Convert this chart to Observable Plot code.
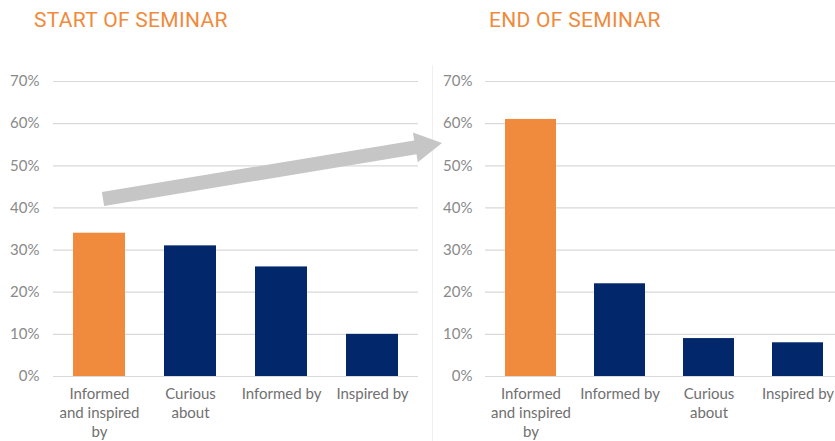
<!DOCTYPE html>
<html>
<head>
<meta charset="utf-8">
<script src="https://cdn.jsdelivr.net/npm/d3@7"></script>
<script src="https://cdn.jsdelivr.net/npm/@observablehq/plot@0.6"></script>
<style>
  html, body { margin: 0; padding: 0; background: #fff; overflow: hidden; }
  #wrap { position: relative; width: 835px; height: 441px; overflow: hidden; }
  .title { position: absolute; top: 8px; font-family: Roboto, sans-serif; font-size: 21px; color: #F08A3C; letter-spacing: 0.3px; white-space: nowrap; }
  .panel { position: absolute; top: 60px; }
  .panel svg { max-width: none !important; display: block; }
  #sep { position: absolute; left: 432px; top: 65px; width: 1px; height: 376px; background: #f0f0f0; }
  #overlay { position: absolute; left: 0; top: 0; pointer-events: none; }
</style>
</head>
<body>
<div id="wrap">
  <div class="title" style="left:34px">START OF SEMINAR</div>
  <div class="title" style="left:489px">END OF SEMINAR</div>
  <div id="sep"></div>
  <div id="left" class="panel" style="left:0px; width:420px"></div>
  <div id="right" class="panel" style="left:420px; width:422px"></div>
</div>
<script>
// ---- data ----
const startCategories = ["Informed and inspired by", "Curious about", "Informed by", "Inspired by"];
const startValues = [34, 31, 26, 10];
const endCategories = ["Informed and inspired by", "Informed by", "Curious about", "Inspired by"];
const endValues = [61, 22, 9, 8];
const yTicks = [0, 10, 20, 30, 40, 50, 60, 70];
const labelCategories = ["Informed and inspired by", "Curious about", "Informed by", "Inspired by"];
const labelTexts = ["Informed\nand inspired\nby", "Curious\nabout", "Informed by", "Inspired by"];
const highlight = "Informed and inspired by";
// annotation arrow: from the start panel's highlighted bar (value) to the end panel's axis (value)
const arrowStartValue = 42;
const arrowEndValue = 55.3;

const ORANGE = "#F08A3C";
const NAVY = "#02276A";

const labelOf = d => labelTexts[labelCategories.indexOf(d)] ?? d;

function panel(cats, vals, {width, marginLeft, marginRight, tickPadding, paddingOuter}) {
  const data = cats.map((c, i) => ({cat: c, val: vals[i]}));
  return Plot.plot({
    width,
    height: 381,
    marginTop: 21,
    marginBottom: 65,
    marginLeft,
    marginRight,
    style: {fontFamily: "Lato, sans-serif", fontSize: "15px", background: "transparent", overflow: "visible", maxWidth: "none"},
    x: {domain: cats, paddingInner: 0.43, paddingOuter, label: null},
    y: {domain: [0, 70], label: null},
    marks: [
      Plot.gridY(yTicks, {stroke: "#d9d9d9", strokeOpacity: 1, strokeWidth: 1.2}),
      Plot.barY(data, {filter: d => d.cat === highlight, x: "cat", y: "val", fill: ORANGE}),
      Plot.barY(data, {filter: d => d.cat !== highlight, x: "cat", y: "val", fill: NAVY}),
      Plot.axisY(yTicks, {tickSize: 0, tickPadding, tickFormat: d => d + "%", fill: "#8a8a8a", fontSize: 15}),
      Plot.axisX({tickSize: 0, tickPadding: 9, tickFormat: labelOf, fill: "#707070", fontSize: 15, lineHeight: 1.27})
    ]
  });
}

const left = panel(startCategories, startValues, {width: 420, marginLeft: 53, marginRight: 2, tickPadding: 14, paddingOuter: 0.22});
const right = panel(endCategories, endValues, {width: 422, marginLeft: 65, marginRight: 0, tickPadding: 13, paddingOuter: 0.213});
document.getElementById("left").appendChild(left);
document.getElementById("right").appendChild(right);

// ---- arrow annotation, positioned through the plots' scales ----
const xL = left.scale("x"), yL = left.scale("y");
const xR = right.scale("x"), yR = right.scale("y");
const top0 = 60, leftR = 420;
const x0 = xL.apply(highlight) + xL.bandwidth / 2 + 4;
const y0 = top0 + yL.apply(arrowStartValue);
const x1 = leftR + xR.range[0] - 43;
const y1 = top0 + yR.apply(arrowEndValue);

const dx = x1 - x0, dy = y1 - y0, len = Math.hypot(dx, dy);
const ux = dx / len, uy = dy / len, nx = -uy, ny = ux;
const shaft = 7, head = 15, headLen = 27;
const bx = x1 - ux * headLen, by = y1 - uy * headLen;
const pts = [
  [x0 + nx * shaft, y0 + ny * shaft],
  [bx + nx * shaft, by + ny * shaft],
  [bx + nx * head, by + ny * head],
  [x1, y1],
  [bx - nx * head, by - ny * head],
  [bx - nx * shaft, by - ny * shaft],
  [x0 - nx * shaft, y0 - ny * shaft]
];
const svg = d3.select("#wrap").append("svg").attr("id", "overlay").attr("width", 835).attr("height", 441);
svg.append("polygon").attr("points", pts.map(p => p.join(",")).join(" ")).attr("fill", "#C6C6C6");
</script>
</body>
</html>
